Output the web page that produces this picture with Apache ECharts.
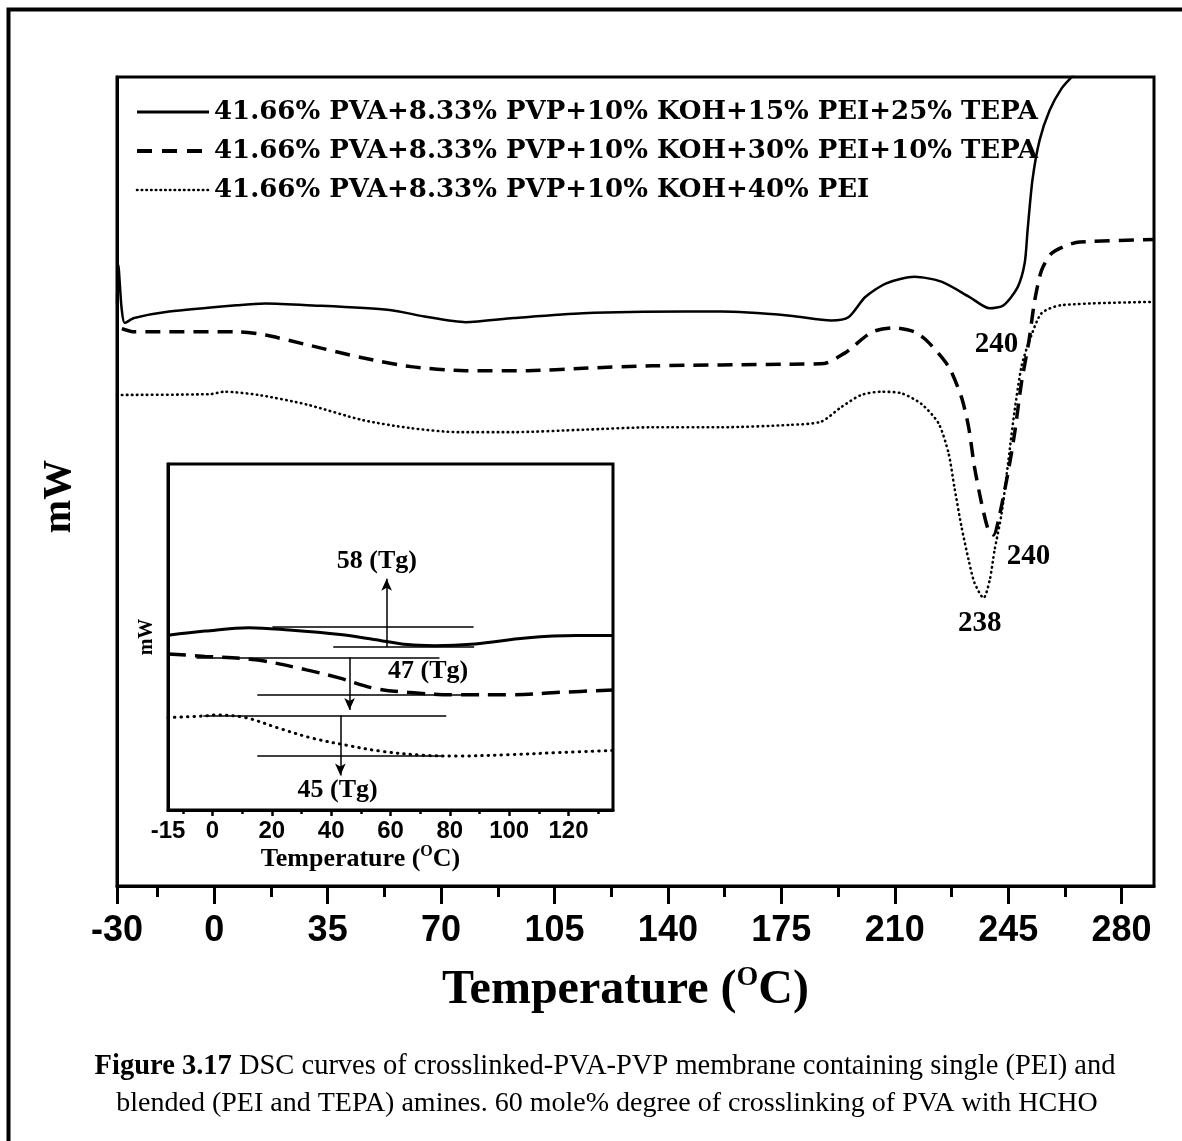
<!DOCTYPE html>
<html><head><meta charset="utf-8">
<script src="https://cdn.jsdelivr.net/npm/echarts@6/dist/echarts.min.js"></script>
<style>html,body{margin:0;padding:0;background:#fff;}#c{width:1182px;height:1141px;}</style>
</head><body><div id="c"></div>
<script>
// ---------- data ----------
const seriesNames = [
  '41.66% PVA+8.33% PVP+10% KOH+15% PEI+25% TEPA',
  '41.66% PVA+8.33% PVP+10% KOH+30% PEI+10% TEPA',
  '41.66% PVA+8.33% PVP+10% KOH+40% PEI'
];
// main plot (temperature °C, heat flow in arbitrary mW units)
const tempSolid = [-30,-29.6,-28.6,-27.6,-24.7,-13.9,7.4,15.8,28.7,54.1,64.9,77.6,92.4,113.8,145.6,156.4,177.7,190.4,195.7,200.9,207.4,216.1,224.4,233.1,239.3,243.6,247.9,250.1,251.0,252.5,254.7,257.8,261.5,264.6,268];
const mwSolid   = [72.0,76.8,71.5,69.6,70.2,71.0,71.8,72.0,71.8,71.2,70.4,69.7,70.2,70.8,71.0,71.0,70.5,69.9,70.3,72.8,74.5,75.3,74.7,72.8,71.4,71.8,74.0,77.0,81.1,87.3,92.2,95.9,98.6,100.0,101.5];
const tempDash  = [-28.5,-24.7,7.4,15.8,28.7,45.7,60.6,77.6,96.8,113.8,135.1,177.7,188.3,194.7,196.9,203.1,209.6,216.1,220.4,226.6,230.6,232.8,234.6,236.8,238.9,240.5,242.0,245.1,247.0,249.1,251.3,253.2,255.3,258.4,263.1,267.1,290];
const mwDash    = [68.9,68.5,68.5,68.1,66.9,65.3,64.2,63.7,63.7,64.0,64.3,64.5,64.6,65.9,66.6,68.5,69.0,68.5,67.2,64.2,60.4,56.7,51.8,47.3,44.0,43.4,45.2,51.4,56.0,62.2,67.1,72.4,76.1,78.2,79.2,79.6,79.9];
const tempDot   = [-30,-1.2,3.1,13.6,28.7,45.7,60.6,75.4,92.4,113.8,135.1,156.4,177.7,187.3,193.5,199.7,205.9,212.1,218.2,223.5,226.6,228.4,230.6,232.8,234.6,237.4,239.3,240.8,243.0,245.1,247.0,249.1,251.3,255.3,261.5,290];
const mwDot     = [60.7,60.8,61.1,60.7,59.5,57.6,56.6,56.1,56.1,56.4,56.7,56.7,57.0,57.4,59.2,60.7,61.1,60.9,59.6,57.2,53.5,49.3,44.4,40.3,37.5,35.6,37.8,41.5,46.1,52.7,58.8,64.2,67.1,70.8,71.8,72.2];
// peak annotations: [temperature, mW, text]
const peakSolid = [241.4, 66.9, '240'];
const peakDash  = [251.3, 40.7, '240'];
const peakDot   = [236.2, 32.5, '238'];
// main axis ticks
const mainTickLabels = [-30,0,35,70,105,140,175,210,245,280];
const mainMinorTicks = [-17.5,17.5,52.5,87.5,122.5,157.5,192.5,227.5,262.5];

// inset (zoom of -15..135 °C)
const insetTempSolid = [-15,-2.5,12.3,25.9,43,54.4,65.8,74.8,88.5,105.6,122.6,135];
const insetMwSolid   = [50.5,51.7,52.7,52.0,50.7,49.3,47.8,47.5,48.0,49.7,50.4,50.4];
const insetTempDash  = [-15,-2.55,14.6,31.7,43,54.4,65.8,82.8,99.9,117,135];
const insetMwDash    = [45.1,44.4,43.4,40.5,38.1,35.2,34.0,33.3,33.3,34.0,34.7];
const insetTempDot   = [-15,-2.5,0.9,11.1,22.5,33.9,45.3,56.7,71.4,82.8,99.9,117,135];
const insetMwDot     = [26.7,27.2,27.5,26.7,23.6,20.7,18.7,17.0,15.8,15.6,16.0,16.6,17.2];
const insetTickLabels = [-15,0,20,40,60,80,100,120];
const insetMajorTicks = [0,20,40,60,80,100,120];
const insetMinorTicks = [-10,10,30,50,70,90,110,130];
// Tg construction lines: [tStart, tEnd, level]
const tgLinesSolid = [[20.2,88,52.9],[40.7,88.2,47.1]];
const tgLinesDash  = [[-5.4,76.5,44.1],[15.1,86.7,33.2]];
const tgLinesDot   = [[-3.1,78.8,27.3],[15.1,77.7,15.6]];
// Tg arrows: [t, fromLevel, toLevel]
const tgArrowSolid = [58.7,47.1,66.8];
const tgArrowDash  = [46.2,44.1,28.9];
const tgArrowDot   = [43.1,27.3,10.0];
// Tg labels: [t, level, text]
const tgLabelSolid = [55.4,72.0,'58 (Tg)'];
const tgLabelDash  = [72.7,40.1,'47 (Tg)'];
const tgLabelDot   = [42.2,5.6,'45 (Tg)'];

// ---------- helpers ----------
const zip = (a,b) => a.map((v,i)=>[v,b[i]]);
const SERIF = 'Liberation Serif';
const SANS = 'Liberation Sans';
const solidStyle  = {color:'#000', width:2.5, type:'solid'};
const dashStyle   = {color:'#000', width:3.5, type:[15,9], cap:'butt'};
const dotStyle    = {color:'#000', width:2.6, type:[0.5,4.5], cap:'round'};

function peakMark(p){
  return {silent:true, symbol:'circle', symbolSize:0.1, itemStyle:{color:'rgba(0,0,0,0)'},
    label:{show:true, position:'inside', formatter:'{b}', color:'#000', fontFamily:SERIF, fontWeight:'bold', fontSize:29},
    data:[{name:p[2], coord:[p[0],p[1]]}]};
}
function tgMarks(lines, arrow, lab){
  const data = lines.map(l => [{coord:[l[0],l[2]], symbol:'none'},{coord:[l[1],l[2]], symbol:'none'}]);
  data.push([{coord:[arrow[0],arrow[1]], symbol:'none'},{coord:[arrow[0],arrow[2]], symbol:'arrow', symbolSize:[8,12]}]);
  return {
    markLine:{silent:true, symbol:'none', animation:false, label:{show:false},
      lineStyle:{color:'#000', width:1.5, type:'solid'}, data:data},
    markPoint:{silent:true, symbol:'circle', symbolSize:0.1, itemStyle:{color:'rgba(0,0,0,0)'},
      label:{show:true, position:'inside', formatter:'{b}', color:'#000', fontFamily:SERIF, fontWeight:'bold', fontSize:26},
      data:[{name:lab[2], coord:[lab[0],lab[1]]}]}
  };
}

const chart = echarts.init(document.getElementById('c'), null, {renderer:'canvas'});
const option = {
  animation:false,
  backgroundColor:'#fff',
  legend:{
    data:[
      {name:seriesNames[0], lineStyle:{width:3, type:'solid', color:'#000'}},
      {name:seriesNames[1], lineStyle:{width:4, type:[15,10], color:'#000'}},
      {name:seriesNames[2], lineStyle:{width:2.6, type:[0.5,4.2], cap:'round', color:'#000'}}
    ],
    orient:'vertical', left:135, top:99, padding:0,
    itemWidth:72, itemHeight:14, itemGap:13,
    itemStyle:{color:'rgba(0,0,0,0)', opacity:0, borderWidth:0},
    textStyle:{fontFamily:'DejaVu Serif', fontWeight:'bold', fontSize:26, lineHeight:26, color:'#000'}
  },
  grid:[
    {left:117, top:77, width:1037, height:809, show:true, borderColor:'#000', borderWidth:3, backgroundColor:'transparent'},
    {left:168, top:464, width:445, height:346, show:true, borderColor:'#000', borderWidth:3, backgroundColor:'#fff'}
  ],
  xAxis:[
    {gridIndex:0, type:'value', position:'bottom', min:-30, max:290,
      axisLine:{show:true, onZero:false, lineStyle:{color:'#000', width:3}},
      axisTick:{show:true, customValues:mainTickLabels, length:18, lineStyle:{color:'#000', width:3}},
      axisLabel:{show:true, customValues:mainTickLabels, margin:27, color:'#000', fontFamily:SANS, fontWeight:'bold', fontSize:36},
      splitLine:{show:false},
      name:'{t|Temperature (}{s|O}{t|C)}', nameLocation:'middle', nameGap:78,
      nameTextStyle:{padding:[0,20,0,0], rich:{
        t:{fontFamily:SERIF, fontWeight:'bold', fontSize:48, lineHeight:54, color:'#000'},
        s:{fontFamily:SERIF, fontWeight:'bold', fontSize:28, lineHeight:28, color:'#000', verticalAlign:'top'}}}
    },
    {gridIndex:0, type:'value', position:'bottom', min:-30, max:290,
      axisLine:{show:false, onZero:false},
      axisTick:{show:true, customValues:mainMinorTicks, length:11, lineStyle:{color:'#000', width:3}},
      axisLabel:{show:false}, splitLine:{show:false}
    },
    {gridIndex:1, type:'value', position:'bottom', min:-15, max:135,
      axisLine:{show:true, onZero:false, lineStyle:{color:'#000', width:3}},
      axisTick:{show:true, customValues:insetMajorTicks, length:6, lineStyle:{color:'#000', width:2.5}},
      axisLabel:{show:true, customValues:insetTickLabels, margin:9, color:'#000', fontFamily:SANS, fontWeight:'bold', fontSize:24},
      splitLine:{show:false},
      name:'{t|Temperature (}{s|O}{t|C)}', nameLocation:'middle', nameGap:34,
      nameTextStyle:{padding:[0,60,0,0], rich:{
        t:{fontFamily:SERIF, fontWeight:'bold', fontSize:26, lineHeight:30, color:'#000'},
        s:{fontFamily:SERIF, fontWeight:'bold', fontSize:16, lineHeight:16, color:'#000', verticalAlign:'top'}}}
    },
    {gridIndex:1, type:'value', position:'bottom', min:-15, max:135,
      axisLine:{show:false, onZero:false},
      axisTick:{show:true, customValues:insetMinorTicks, length:4, lineStyle:{color:'#000', width:2.5}},
      axisLabel:{show:false}, splitLine:{show:false}
    }
  ],
  yAxis:[
    {gridIndex:0, type:'value', min:0, max:100,
      axisLine:{show:true, onZero:false, lineStyle:{color:'#000', width:3}},
      axisTick:{show:false}, axisLabel:{show:false}, splitLine:{show:false},
      name:'mW', nameLocation:'middle', nameRotate:90, nameGap:37,
      nameTextStyle:{fontFamily:SERIF, fontWeight:'bold', fontSize:40, color:'#000', padding:[0,30,0,0]}
    },
    {gridIndex:1, type:'value', min:0, max:100,
      axisLine:{show:true, onZero:false, lineStyle:{color:'#000', width:3}},
      axisTick:{show:false}, axisLabel:{show:false}, splitLine:{show:false},
      name:'mW', nameLocation:'middle', nameRotate:90, nameGap:11,
      nameTextStyle:{fontFamily:SERIF, fontWeight:'bold', fontSize:20, color:'#000'}
    }
  ],
  series:[
    {name:seriesNames[0], type:'line', xAxisIndex:0, yAxisIndex:0, data:zip(tempSolid,mwSolid),
      showSymbol:false, symbol:'none', smooth:0.25, clip:true, lineStyle:solidStyle, itemStyle:{color:'#000'},
      markPoint:peakMark(peakSolid)},
    {name:seriesNames[1], type:'line', xAxisIndex:0, yAxisIndex:0, data:zip(tempDash,mwDash),
      showSymbol:false, symbol:'none', smooth:0.25, clip:true, lineStyle:dashStyle, itemStyle:{color:'#000'},
      markPoint:peakMark(peakDash)},
    {name:seriesNames[2], type:'line', xAxisIndex:0, yAxisIndex:0, data:zip(tempDot,mwDot),
      showSymbol:false, symbol:'none', smooth:0.25, clip:true, lineStyle:dotStyle, itemStyle:{color:'#000'},
      markPoint:peakMark(peakDot)},
    Object.assign({name:'inset-solid', type:'line', xAxisIndex:2, yAxisIndex:1, data:zip(insetTempSolid,insetMwSolid),
      showSymbol:false, symbol:'none', smooth:0.35, lineStyle:{color:'#000', width:3, type:'solid'}, itemStyle:{color:'#000'}},
      tgMarks(tgLinesSolid, tgArrowSolid, tgLabelSolid)),
    Object.assign({name:'inset-dash', type:'line', xAxisIndex:2, yAxisIndex:1, data:zip(insetTempDash,insetMwDash),
      showSymbol:false, symbol:'none', smooth:0.35, lineStyle:{color:'#000', width:3.5, type:[18,9]}, itemStyle:{color:'#000'}},
      tgMarks(tgLinesDash, tgArrowDash, tgLabelDash)),
    Object.assign({name:'inset-dot', type:'line', xAxisIndex:2, yAxisIndex:1, data:zip(insetTempDot,insetMwDot),
      showSymbol:false, symbol:'none', smooth:0.35, lineStyle:{color:'#000', width:3, type:[0.5,6], cap:'round'}, itemStyle:{color:'#000'}},
      tgMarks(tgLinesDot, tgArrowDot, tgLabelDot))
  ],
  graphic:[
    {type:'rect', silent:true, z:100, shape:{x:8.5, y:9.5, width:1400, height:1400},
      style:{fill:'none', stroke:'#000', lineWidth:4}},
    {type:'text', silent:true, x:605, y:1067, style:{
      text:'{b|Figure 3.17}{r| DSC curves of crosslinked-PVA-PVP membrane containing single (PEI) and}',
      rich:{b:{fontFamily:SERIF, fontWeight:'bold', fontSize:28.5, fill:'#000'}, r:{fontFamily:SERIF, fontSize:28.5, fill:'#000'}},
      fontFamily:SERIF, fontSize:28.5, fill:'#000', textAlign:'center', textVerticalAlign:'middle'}},
    {type:'text', silent:true, x:607, y:1104, style:{
      text:'blended (PEI and TEPA) amines. 60 mole% degree of crosslinking of PVA with HCHO',
      fontFamily:SERIF, fontSize:28, fill:'#000', textAlign:'center', textVerticalAlign:'middle'}}
  ]
};
chart.setOption(option);
</script>
</body></html>
